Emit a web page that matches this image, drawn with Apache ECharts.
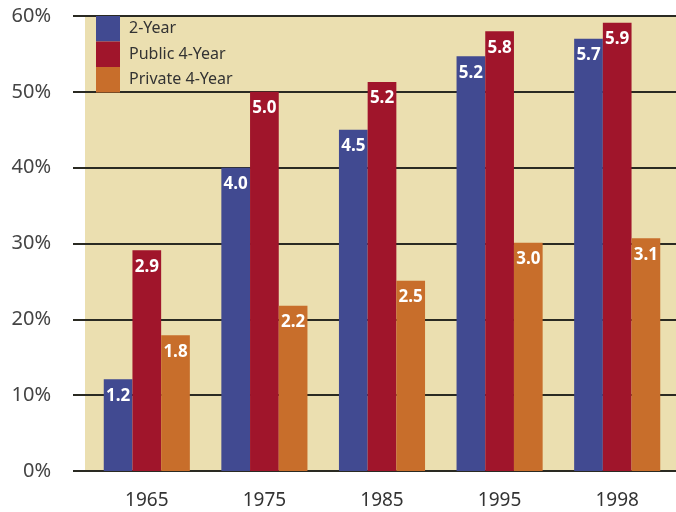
<!DOCTYPE html>
<html>
<head>
<meta charset="utf-8">
<script src="https://cdn.jsdelivr.net/npm/echarts@6/dist/echarts.min.js"></script>
<style>
  html, body { margin: 0; padding: 0; background: #fff; }
  #chart { width: 676px; height: 512px; }
</style>
</head>
<body>
<div id="chart"></div>
<script>
// chart data
const years = ['1965', '1975', '1985', '1995', '1998']
const twoYear = [12.1, 40.0, 45.0, 54.7, 57.0]
const public4 = [29.1, 50.0, 51.3, 58.0, 59.1]
const private4 = [17.9, 21.8, 25.1, 30.1, 30.7]
// printed labels on the bars
const twoYearLabels = ['1.2', '4.0', '4.5', '5.2', '5.7']
const public4Labels = ['2.9', '5.0', '5.2', '5.8', '5.9']
const private4Labels = ['1.8', '2.2', '2.5', '3.0', '3.1']
const yTicks = [0, 10, 20, 30, 40, 50, 60]

const font = 'Noto Sans'
const chart = echarts.init(document.getElementById('chart'))

function barSeries(name, values, labels, color) {
  return {
    name: name,
    type: 'bar',
    xAxisIndex: 2,
    yAxisIndex: 2,
    barWidth: 28.7,
    barGap: '0%',
    itemStyle: { color: color },
    label: {
      show: true,
      position: 'insideTop',
      distance: 8,
      color: '#fff',
      fontFamily: font,
      fontWeight: 'bold',
      fontSize: 17,
      formatter: p => labels[p.dataIndex]
    },
    data: values
  }
}

const option = {
  animation: false,
  textStyle: { fontFamily: font },
  grid: [
    // plot background
    { left: 85, right: 0, top: 16, bottom: 41, show: true, backgroundColor: '#EBDFB0', borderWidth: 0, z: -1 },
    // gridlines + y labels
    { left: 73, right: 0, top: 16, bottom: 41 },
    // bars
    { left: 88, right: -5, top: 16, bottom: 41 }
  ],
  legend: {
    orient: 'vertical',
    left: 96,
    top: 16,
    padding: 0,
    itemWidth: 24,
    itemHeight: 25.5,
    itemGap: 0,
    icon: 'rect',
    textStyle: { fontFamily: font, fontSize: 16, color: '#333', padding: [0, 0, 0, 4] },
    data: ['2-Year', 'Public 4-Year', 'Private 4-Year']
  },
  xAxis: [
    { gridIndex: 0, type: 'value', show: false },
    { gridIndex: 1, type: 'value', show: false },
    {
      gridIndex: 2,
      type: 'category',
      data: years,
      axisLine: { show: false },
      axisTick: { show: false },
      axisLabel: { fontFamily: font, fontSize: 19, color: '#333', margin: 20 }
    }
  ],
  yAxis: [
    { gridIndex: 0, type: 'value', show: false, min: 0, max: 60 },
    {
      gridIndex: 1,
      type: 'value',
      min: yTicks[0],
      max: yTicks[yTicks.length - 1],
      interval: 10,
      axisLine: { show: false },
      axisTick: { show: false },
      splitLine: { lineStyle: { color: '#2a2a22', width: 2 } },
      axisLabel: { fontFamily: font, fontSize: 20, color: '#444', margin: 22, formatter: '{value}%' }
    },
    { gridIndex: 2, type: 'value', show: false, min: 0, max: 60 }
  ],
  series: [
    barSeries('2-Year', twoYear, twoYearLabels, '#414A91'),
    barSeries('Public 4-Year', public4, public4Labels, '#A0152B'),
    barSeries('Private 4-Year', private4, private4Labels, '#C86E2B')
  ]
}

chart.setOption(option)
</script>
</body>
</html>
